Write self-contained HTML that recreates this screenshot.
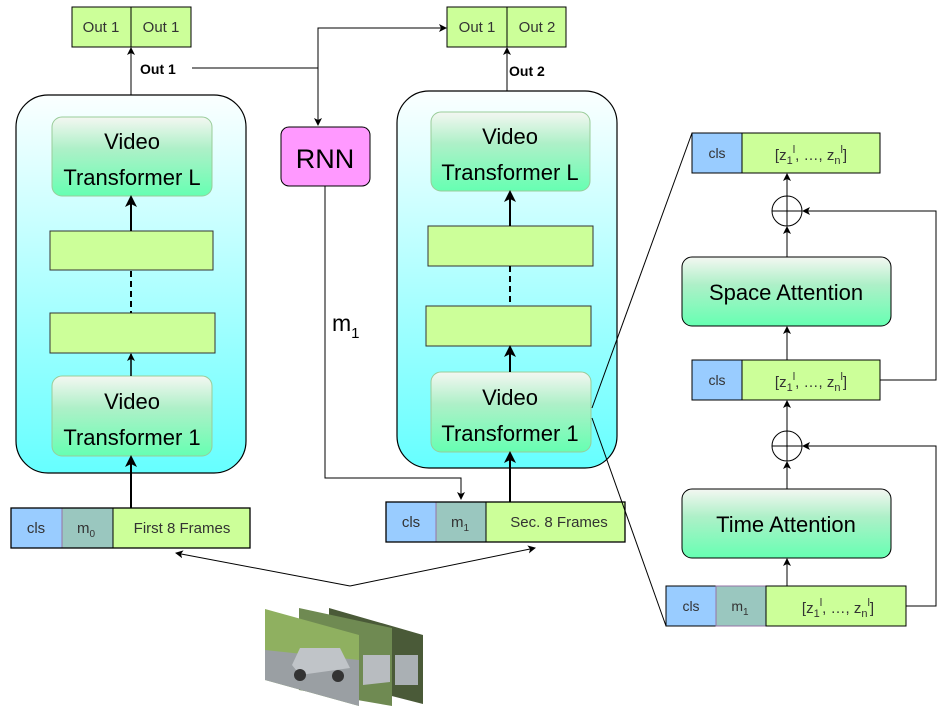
<!DOCTYPE html>
<html><head><meta charset="utf-8"><style>
html,body{margin:0;padding:0;background:#fff}
svg{display:block}
text{font-family:"Liberation Sans",sans-serif}
</style></head><body>
<svg width="946" height="727" viewBox="0 0 946 727" xmlns="http://www.w3.org/2000/svg">
<defs>
<linearGradient id="cont" x1="0" y1="0" x2="0" y2="1"><stop offset="0" stop-color="#fbffff"/><stop offset="1" stop-color="#66ffff"/></linearGradient>
<linearGradient id="vt" x1="0" y1="0" x2="0" y2="1"><stop offset="0" stop-color="#f4f7f2"/><stop offset="0.4" stop-color="#aef0c8"/><stop offset="1" stop-color="#66ffb2"/></linearGradient>
<marker id="a" markerWidth="8" markerHeight="8" refX="7" refY="4" orient="auto" markerUnits="userSpaceOnUse"><path d="M0,0 L8,4 L0,8 L2,4 z" fill="#000"/></marker>
<marker id="b" markerWidth="12" markerHeight="12" refX="10" refY="6" orient="auto" markerUnits="userSpaceOnUse"><path d="M0,0 L12,6 L0,12 L3,6 z" fill="#000"/></marker>
</defs>

<rect x="16" y="95" width="230" height="378" rx="32" fill="url(#cont)" stroke="#000" stroke-width="1.2"/>
<rect x="397" y="91" width="220" height="377" rx="32" fill="url(#cont)" stroke="#000" stroke-width="1.2"/>

<rect x="72" y="7" width="119" height="40" fill="#ccff99" stroke="#000"/>
<line x1="131" y1="7" x2="131" y2="47" stroke="#000"/>
<text x="101" y="32" font-size="15" text-anchor="middle" fill="#333">Out 1</text>
<text x="161" y="32" font-size="15" text-anchor="middle" fill="#333">Out 1</text>
<rect x="447" y="7" width="119" height="40" fill="#ccff99" stroke="#000"/>
<line x1="507" y1="7" x2="507" y2="47" stroke="#000"/>
<text x="477" y="32" font-size="15" text-anchor="middle" fill="#333">Out 1</text>
<text x="537" y="32" font-size="15" text-anchor="middle" fill="#333">Out 2</text>

<line x1="131" y1="95" x2="131" y2="48" stroke="#000" marker-end="url(#a)"/>
<line x1="507" y1="91" x2="507" y2="48" stroke="#000" marker-end="url(#a)"/>
<text x="140" y="74" font-size="14" font-weight="bold">Out 1</text>
<text x="509" y="76" font-size="14" font-weight="bold">Out 2</text>
<polyline points="192,68 318,68 318,125" fill="none" stroke="#000" marker-end="url(#a)"/>
<polyline points="318,68 318,28 446,28" fill="none" stroke="#000" marker-end="url(#a)"/>

<rect x="281" y="127" width="89" height="59" rx="8" fill="#ff99ff" stroke="#000"/>
<text x="325" y="168" font-size="27" text-anchor="middle">RNN</text>
<polyline points="325,186 325,478 461,478 461,499" fill="none" stroke="#000" marker-end="url(#a)"/>
<text x="332" y="331" font-size="23">m<tspan font-size="15" dy="7">1</tspan></text>

<rect x="52" y="117" width="160" height="79" rx="10" fill="url(#vt)" stroke="#9c9" />
<text x="132" y="149" font-size="22" text-anchor="middle">Video</text>
<text x="132" y="185" font-size="22" text-anchor="middle">Transformer L</text>
<rect x="50" y="231" width="163" height="39" fill="#ccff99" stroke="#333"/>
<rect x="50" y="313" width="165" height="40" fill="#ccff99" stroke="#333"/>
<rect x="52" y="376" width="160" height="80" rx="10" fill="url(#vt)" stroke="#9c9"/>
<text x="132" y="409" font-size="22" text-anchor="middle">Video</text>
<text x="132" y="445" font-size="22" text-anchor="middle">Transformer 1</text>
<line x1="131" y1="231" x2="131" y2="197" stroke="#000" stroke-width="2" marker-end="url(#b)"/>
<line x1="131" y1="271" x2="131" y2="313" stroke="#000" stroke-width="2" stroke-dasharray="6,4"/>
<line x1="131" y1="376" x2="131" y2="354" stroke="#000" stroke-width="1.5" marker-end="url(#a)"/>
<line x1="131" y1="508" x2="131" y2="457" stroke="#000" stroke-width="2" marker-end="url(#b)"/>

<rect x="431" y="112" width="159" height="79" rx="10" fill="url(#vt)" stroke="#9c9"/>
<text x="510" y="144" font-size="22" text-anchor="middle">Video</text>
<text x="510" y="180" font-size="22" text-anchor="middle">Transformer L</text>
<rect x="428" y="226" width="165" height="40" fill="#ccff99" stroke="#333"/>
<rect x="426" y="306" width="165" height="40" fill="#ccff99" stroke="#333"/>
<rect x="431" y="372" width="160" height="80" rx="10" fill="url(#vt)" stroke="#9c9"/>
<text x="510" y="405" font-size="22" text-anchor="middle">Video</text>
<text x="510" y="441" font-size="22" text-anchor="middle">Transformer 1</text>
<line x1="510" y1="226" x2="510" y2="192" stroke="#000" stroke-width="2" marker-end="url(#b)"/>
<line x1="510" y1="266" x2="510" y2="306" stroke="#000" stroke-width="2" stroke-dasharray="6,4"/>
<line x1="510" y1="372" x2="510" y2="347" stroke="#000" stroke-width="2" marker-end="url(#b)"/>
<line x1="510" y1="502" x2="510" y2="453" stroke="#000" stroke-width="2" marker-end="url(#b)"/>

<rect x="11" y="508" width="51" height="40" fill="#99ccff" stroke="#000"/>
<rect x="62" y="508" width="51" height="40" fill="#9ac7bf" stroke="#9673a6"/>
<rect x="113" y="508" width="137" height="40" fill="#ccff99" stroke="#000"/>
<rect x="11" y="508" width="239" height="40" fill="none" stroke="#000" stroke-width="1.3"/>
<text x="36" y="533" font-size="15" text-anchor="middle" fill="#333">cls</text>
<text x="86" y="533" font-size="15" text-anchor="middle" fill="#333">m<tspan font-size="10" dy="4">0</tspan></text>
<text x="182" y="533" font-size="15" text-anchor="middle" fill="#333">First 8 Frames</text>

<rect x="386" y="502" width="50" height="40" fill="#99ccff" stroke="#000"/>
<rect x="436" y="502" width="50" height="40" fill="#9ac7bf" stroke="#9673a6"/>
<rect x="486" y="502" width="139" height="40" fill="#ccff99" stroke="#000"/>
<rect x="386" y="502" width="239" height="40" fill="none" stroke="#000" stroke-width="1.3"/>
<text x="411" y="527" font-size="15" text-anchor="middle" fill="#333">cls</text>
<text x="460" y="527" font-size="15" text-anchor="middle" fill="#333">m<tspan font-size="10" dy="4">1</tspan></text>
<text x="559" y="527" font-size="15" text-anchor="middle" fill="#333">Sec. 8 Frames</text>

<line x1="350" y1="586" x2="176" y2="553" stroke="#000" marker-end="url(#a)"/>
<line x1="350" y1="586" x2="535" y2="548" stroke="#000" marker-end="url(#a)"/>

<polygon points="329,608 423,635 423,704 329,680" fill="#4a5a38"/>
<polygon points="299,608 392,628 392,706 299,690" fill="#6f8a52"/>
<polygon points="265,609 359,635 359,706 265,680" fill="#8fb060"/>
<polygon points="265,650 359,660 359,706 265,680" fill="#9a9fa3"/>
<polygon points="300,648 340,648 350,668 300,675 292,665" fill="#c0c4c8"/>
<circle cx="300" cy="675" r="6" fill="#333"/><circle cx="338" cy="676" r="6" fill="#333"/>
<polygon points="363,655 390,655 390,682 363,685" fill="#b8bcc0"/>
<polygon points="395,655 418,655 418,685 395,685" fill="#aab0b4"/>

<line x1="592" y1="408" x2="692" y2="133" stroke="#000" stroke-width="1"/>
<line x1="592" y1="418" x2="666" y2="626" stroke="#000" stroke-width="1"/>

<rect x="692" y="133" width="50" height="40" fill="#99ccff" stroke="#000"/>
<rect x="742" y="133" width="138" height="40" fill="#ccff99" stroke="#000"/>
<text x="717" y="158" font-size="14" text-anchor="middle" fill="#333">cls</text>
<text x="811" y="160" font-size="15" text-anchor="middle" fill="#333">[z<tspan font-size="11" dy="4">1</tspan><tspan font-size="11" dy="-11">l</tspan><tspan dy="7">, …, z</tspan><tspan font-size="11" dy="4">n</tspan><tspan font-size="11" dy="-11">l</tspan><tspan dy="7">]</tspan></text>

<circle cx="787" cy="211" r="15" fill="#fff" stroke="#000"/>
<line x1="772" y1="211" x2="802" y2="211" stroke="#000"/>
<line x1="787" y1="196" x2="787" y2="226" stroke="#000"/>
<line x1="787" y1="196" x2="787" y2="174" stroke="#000" marker-end="url(#a)"/>
<line x1="787" y1="257" x2="787" y2="227" stroke="#000" marker-end="url(#a)"/>

<rect x="682" y="257" width="209" height="69" rx="10" fill="url(#vt)" stroke="#000"/>
<text x="786" y="300" font-size="22" text-anchor="middle">Space Attention</text>
<line x1="787" y1="360" x2="787" y2="327" stroke="#000" marker-end="url(#a)"/>

<rect x="692" y="360" width="50" height="40" fill="#99ccff" stroke="#000"/>
<rect x="742" y="360" width="138" height="40" fill="#ccff99" stroke="#000"/>
<text x="717" y="385" font-size="14" text-anchor="middle" fill="#333">cls</text>
<text x="811" y="387" font-size="15" text-anchor="middle" fill="#333">[z<tspan font-size="11" dy="4">1</tspan><tspan font-size="11" dy="-11">l</tspan><tspan dy="7">, …, z</tspan><tspan font-size="11" dy="4">n</tspan><tspan font-size="11" dy="-11">l</tspan><tspan dy="7">]</tspan></text>
<polyline points="880,380 936,380 936,211 803,211" fill="none" stroke="#000" marker-end="url(#a)"/>

<circle cx="787" cy="446" r="15" fill="#fff" stroke="#000"/>
<line x1="772" y1="446" x2="802" y2="446" stroke="#000"/>
<line x1="787" y1="431" x2="787" y2="461" stroke="#000"/>
<line x1="787" y1="431" x2="787" y2="401" stroke="#000" marker-end="url(#a)"/>
<line x1="787" y1="489" x2="787" y2="462" stroke="#000" marker-end="url(#a)"/>

<rect x="682" y="489" width="209" height="69" rx="10" fill="url(#vt)" stroke="#000"/>
<text x="786" y="532" font-size="22" text-anchor="middle">Time Attention</text>
<line x1="787" y1="586" x2="787" y2="559" stroke="#000" marker-end="url(#a)"/>

<rect x="666" y="586" width="50" height="40" fill="#99ccff" stroke="#000"/>
<rect x="716" y="586" width="50" height="40" fill="#9ac7bf" stroke="#9673a6"/>
<rect x="766" y="586" width="140" height="40" fill="#ccff99" stroke="#000"/>
<text x="691" y="611" font-size="14" text-anchor="middle" fill="#333">cls</text>
<text x="740" y="611" font-size="14" text-anchor="middle" fill="#333">m<tspan font-size="10" dy="4">1</tspan></text>
<text x="838" y="613" font-size="15" text-anchor="middle" fill="#333">[z<tspan font-size="11" dy="4">1</tspan><tspan font-size="11" dy="-11">l</tspan><tspan dy="7">, …, z</tspan><tspan font-size="11" dy="4">n</tspan><tspan font-size="11" dy="-11">l</tspan><tspan dy="7">]</tspan></text>
<polyline points="906,606 936,606 936,446 803,446" fill="none" stroke="#000" marker-end="url(#a)"/>
</svg>
</body></html>
